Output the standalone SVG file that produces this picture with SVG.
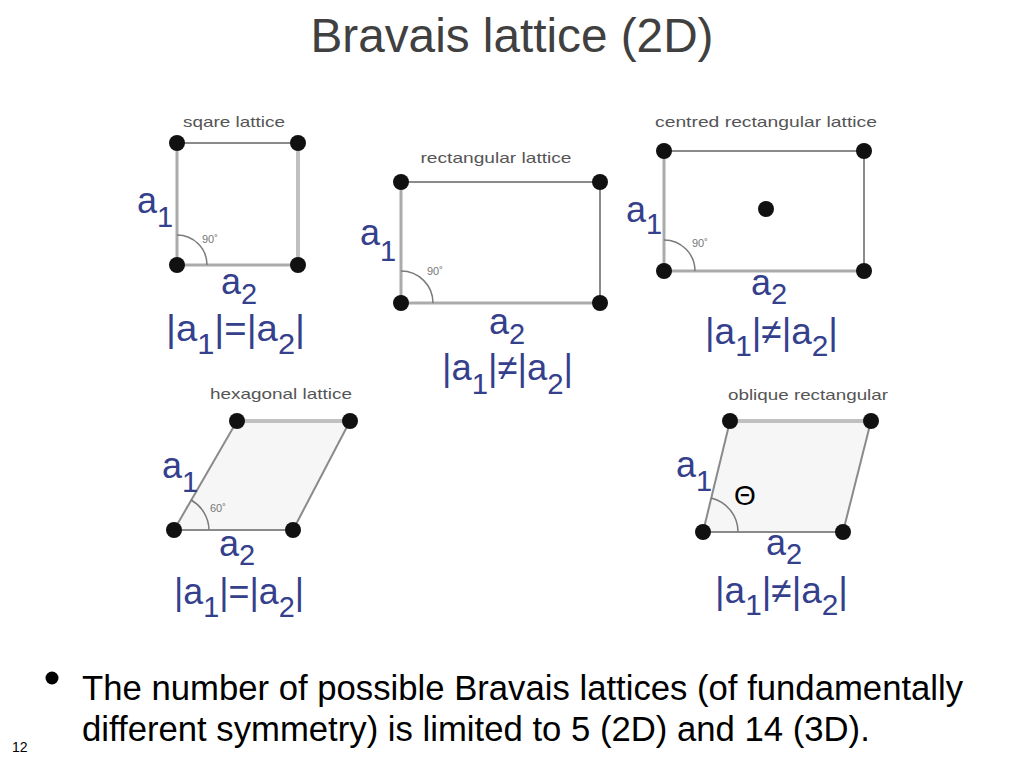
<svg xmlns="http://www.w3.org/2000/svg" width="1024" height="768" viewBox="0 0 1024 768">
<style>
.title{font-family:"Liberation Sans",Arial,sans-serif;font-size:48px;fill:#404040}
.body{font-family:"Liberation Sans",Arial,sans-serif;font-size:34.7px;fill:#000}
.pg{font-family:"Liberation Sans",Arial,sans-serif;font-size:14px;fill:#000}
.lbl{font-family:"Liberation Sans",Arial,sans-serif;font-size:15px;fill:#555}
.ang{font-family:"Liberation Sans",Arial,sans-serif;font-size:11px;fill:#777}
.v{font-family:"Liberation Sans",Arial,sans-serif;font-size:36px;fill:#34408c}
.s{font-size:29px}
.th{font-family:"Liberation Sans",Arial,sans-serif;font-size:28px;fill:#000}
.dot{fill:#111}
.e1{stroke:#8a8a8a;stroke-width:2;fill:none}
.e2{stroke:#ababab;stroke-width:3;fill:none}
.e3{stroke:#c0c0c0;stroke-width:4;fill:none}
.arc{stroke:#7a7a7a;stroke-width:1.5;fill:none}
.fillp{fill:#f6f6f6}
</style>
<rect width="1024" height="768" fill="#fff"/>
<text class="title" x="512" y="52" text-anchor="middle" textLength="403" lengthAdjust="spacingAndGlyphs">Bravais lattice (2D)</text>

<g id="square">
<text class="lbl" x="234" y="127" text-anchor="middle" textLength="102" lengthAdjust="spacingAndGlyphs">sqare lattice</text>
<line class="e1" x1="177" y1="143" x2="298" y2="143"/>
<line class="e2" x1="177" y1="143" x2="177" y2="265"/>
<line class="e3" x1="298" y1="143" x2="298" y2="265"/>
<line class="e2" x1="177" y1="265" x2="298" y2="265"/>
<path class="arc" d="M177,235 A30,30 0 0 1 207,265"/>
<text class="ang" x="202" y="243">90˚</text>
<circle class="dot" cx="177" cy="143" r="8"/><circle class="dot" cx="298" cy="143" r="8"/>
<circle class="dot" cx="177" cy="265" r="8"/><circle class="dot" cx="298" cy="265" r="8"/>
<text class="v" x="137" y="213">a<tspan class="s" dy="14">1</tspan></text>
<text class="v" x="221" y="294">a<tspan class="s" dy="10">2</tspan></text>
<text class="v" x="166" y="341" textLength="139" lengthAdjust="spacingAndGlyphs">|a<tspan class="s" dy="13">1</tspan><tspan dy="-13">|=|a</tspan><tspan class="s" dy="13">2</tspan><tspan dy="-13">|</tspan></text>
</g>

<g id="rectangular">
<text class="lbl" x="496" y="163" text-anchor="middle" textLength="151" lengthAdjust="spacingAndGlyphs">rectangular lattice</text>
<line class="e1" x1="401" y1="182" x2="600" y2="182"/>
<line class="e2" x1="401" y1="182" x2="401" y2="303"/>
<line class="e1" x1="600" y1="182" x2="600" y2="303"/>
<line class="e2" x1="401" y1="303" x2="600" y2="303"/>
<path class="arc" d="M401,271 A32,32 0 0 1 433,303"/>
<text class="ang" x="427" y="275">90˚</text>
<circle class="dot" cx="401" cy="182" r="8"/><circle class="dot" cx="600" cy="182" r="8"/>
<circle class="dot" cx="401" cy="303" r="8"/><circle class="dot" cx="600" cy="303" r="8"/>
<text class="v" x="360" y="245">a<tspan class="s" dy="16">1</tspan></text>
<text class="v" x="489" y="334">a<tspan class="s" dy="10">2</tspan></text>
<text class="v" x="442" y="380" textLength="131" lengthAdjust="spacingAndGlyphs">|a<tspan class="s" dy="14">1</tspan><tspan dy="-14">|≠|a</tspan><tspan class="s" dy="14">2</tspan><tspan dy="-14">|</tspan></text>
</g>

<g id="centred">
<text class="lbl" x="766" y="127" text-anchor="middle" textLength="222" lengthAdjust="spacingAndGlyphs">centred rectangular lattice</text>
<line class="e1" x1="664" y1="151" x2="864" y2="151"/>
<line class="e2" x1="664" y1="151" x2="664" y2="271"/>
<line class="e1" x1="864" y1="151" x2="864" y2="271"/>
<line class="e2" x1="664" y1="271" x2="864" y2="271"/>
<path class="arc" d="M664,240 A31,31 0 0 1 695,271"/>
<text class="ang" x="692" y="247">90˚</text>
<circle class="dot" cx="664" cy="151" r="8"/><circle class="dot" cx="864" cy="151" r="8"/>
<circle class="dot" cx="664" cy="271" r="8"/><circle class="dot" cx="864" cy="271" r="8"/>
<circle class="dot" cx="766" cy="209" r="8"/>
<text class="v" x="626" y="222">a<tspan class="s" dy="12">1</tspan></text>
<text class="v" x="751" y="295">a<tspan class="s" dy="9">2</tspan></text>
<text class="v" x="705" y="344" textLength="133" lengthAdjust="spacingAndGlyphs">|a<tspan class="s" dy="12">1</tspan><tspan dy="-12">|≠|a</tspan><tspan class="s" dy="12">2</tspan><tspan dy="-12">|</tspan></text>
</g>

<g id="hexagonal">
<text class="lbl" x="281" y="399" text-anchor="middle" textLength="142" lengthAdjust="spacingAndGlyphs">hexagonal lattice</text>
<polygon class="fillp" points="174,530 237,421 350,421 293,530"/>
<line class="e3" x1="237" y1="421" x2="350" y2="421"/>
<line class="e1" x1="174" y1="530" x2="237" y2="421"/>
<line class="e1" x1="293" y1="530" x2="350" y2="421"/>
<line class="e1" x1="174" y1="530" x2="293" y2="530"/>
<path class="arc" d="M191,500 A35,35 0 0 1 209,530"/>
<text class="ang" x="210" y="512">60˚</text>
<circle class="dot" cx="237" cy="421" r="8"/><circle class="dot" cx="350" cy="421" r="8"/>
<circle class="dot" cx="174" cy="530" r="8"/><circle class="dot" cx="293" cy="530" r="8"/>
<text class="v" x="162" y="478">a<tspan class="s" dy="14">1</tspan></text>
<text class="v" x="219" y="556">a<tspan class="s" dy="9">2</tspan></text>
<text class="v" x="174" y="604" textLength="130" lengthAdjust="spacingAndGlyphs">|a<tspan class="s" dy="13">1</tspan><tspan dy="-13">|=|a</tspan><tspan class="s" dy="13">2</tspan><tspan dy="-13">|</tspan></text>
</g>

<g id="oblique">
<text class="lbl" x="808" y="400" text-anchor="middle" textLength="160" lengthAdjust="spacingAndGlyphs">oblique rectangular</text>
<polygon class="fillp" points="703,532 730,421 871,421 843,532"/>
<line class="e3" x1="730" y1="421" x2="871" y2="421"/>
<line class="e1" x1="703" y1="532" x2="730" y2="421"/>
<line class="e1" x1="843" y1="532" x2="871" y2="421"/>
<line class="e1" x1="703" y1="532" x2="843" y2="532"/>
<path class="arc" d="M711,498 A35,35 0 0 1 738,532"/>
<circle class="dot" cx="730" cy="421" r="8"/><circle class="dot" cx="871" cy="421" r="8"/>
<circle class="dot" cx="703" cy="532" r="8"/><circle class="dot" cx="843" cy="532" r="8"/>
<text class="th" x="734" y="505">Θ</text>
<text class="v" x="676" y="477">a<tspan class="s" dy="14">1</tspan></text>
<text class="v" x="766" y="555">a<tspan class="s" dy="9">2</tspan></text>
<text class="v" x="715" y="603" textLength="133" lengthAdjust="spacingAndGlyphs">|a<tspan class="s" dy="12">1</tspan><tspan dy="-12">|≠|a</tspan><tspan class="s" dy="12">2</tspan><tspan dy="-12">|</tspan></text>
</g>

<g id="bullet">
<circle cx="52" cy="678" r="6.5" fill="#000"/>
<text class="body" x="82" y="700">The number of possible Bravais lattices (of fundamentally</text>
<text class="body" x="82" y="741">different symmetry) is limited to 5 (2D) and 14 (3D).</text>
</g>
<text class="pg" x="12" y="752">12</text>
</svg>
